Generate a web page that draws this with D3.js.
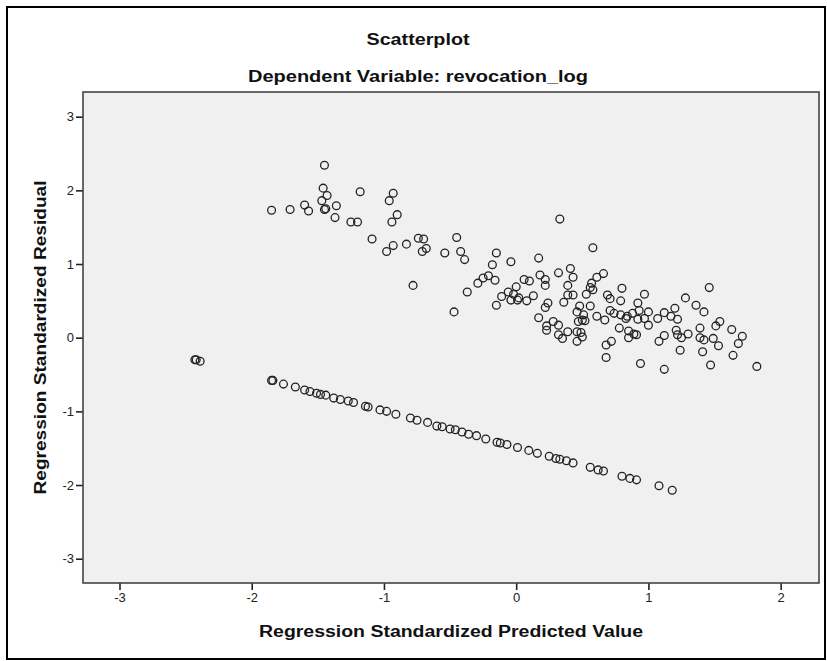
<!DOCTYPE html>
<html>
<head>
<meta charset="utf-8">
<script src="https://cdn.jsdelivr.net/npm/d3@7"></script>
<style>
  body { margin: 0; background: #fff; }
  svg { display: block; font-family: "Liberation Sans", Arial, sans-serif; }
</style>
</head>
<body>
<svg id="chart" width="827" height="661"></svg>
<script>
// SPSS residual plot: standardized predicted (x) vs standardized residual (y)
var titleText = "Scatterplot",
  subtitleText = "Dependent Variable: revocation_log",
  xTitle = "Regression Standardized Predicted Value",
  yTitle = "Regression Standardized Residual";

var xTicks = [-3, -2, -1, 0, 1, 2],
  yTicks = [-3, -2, -1, 0, 1, 2, 3];

// lower band of points (observations at the floor of the dependent variable)
var lineGroup = [
  [-2.43,-0.30],[-2.42,-0.30],[-2.39,-0.32],
  [-1.85,-0.58],[-1.84,-0.58],[-1.76,-0.63],[-1.67,-0.67],[-1.60,-0.71],[-1.56,-0.73],
  [-1.51,-0.755],[-1.48,-0.77],[-1.44,-0.78],[-1.38,-0.82],[-1.33,-0.84],[-1.27,-0.86],
  [-1.23,-0.88],[-1.14,-0.93],[-1.12,-0.94],[-1.03,-0.98],[-0.98,-1.00],[-0.91,-1.04],
  [-0.80,-1.09],[-0.75,-1.12],[-0.67,-1.15],[-0.60,-1.20],[-0.56,-1.21],[-0.50,-1.24],
  [-0.46,-1.25],[-0.41,-1.28],[-0.36,-1.31],[-0.30,-1.33],[-0.23,-1.375],[-0.145,-1.42],
  [-0.12,-1.43],[-0.07,-1.45],[0.01,-1.49],[0.095,-1.53],[0.16,-1.57],[0.25,-1.61],
  [0.30,-1.64],[0.33,-1.65],[0.38,-1.67],[0.43,-1.70],[0.56,-1.76],[0.62,-1.795],
  [0.66,-1.81],[0.80,-1.88],[0.86,-1.91],[0.91,-1.93],[1.08,-2.01],[1.18,-2.07]
];

// upper cloud
var cloudGroup = [
  [-1.45,2.34],[-1.46,2.03],[-1.43,1.93],[-1.47,1.86],[-1.60,1.80],[-1.57,1.72],[-1.45,1.74],
  [-1.44,1.75],[-1.36,1.79],[-1.37,1.63],[-1.85,1.73],[-1.71,1.74],
  [-1.18,1.98],[-0.93,1.96],[-0.96,1.86],[-0.90,1.67],[-0.94,1.57],[-1.25,1.57],[-1.20,1.57],
  [-1.09,1.34],[-0.93,1.25],[-0.98,1.17],[-0.83,1.27],[-0.74,1.35],[-0.70,1.34],[-0.68,1.21],
  [-0.71,1.17],[-0.78,0.71],[-0.45,1.36],[-0.54,1.15],[-0.42,1.17],[-0.39,1.06],[-0.47,0.35],
  [-0.37,0.62],[-0.29,0.74],[-0.25,0.81],[-0.21,0.84],[-0.16,0.78],[-0.18,0.99],[-0.15,1.15],
  [-0.04,1.03],[-0.15,0.44],[-0.11,0.56],[-0.06,0.62],[-0.04,0.51],[0.00,0.69],[0.01,0.51],
  [0.08,0.50],[0.06,0.79],[0.10,0.77],[0.13,0.57],[0.17,1.08],[0.18,0.85],[0.22,0.79],
  [0.22,0.71],[0.24,0.47],[0.22,0.41],[0.17,0.27],[0.28,0.22],[0.32,0.17],[0.23,0.10],
  [0.32,0.04],[0.39,0.08],[0.46,-0.05],[0.33,1.61],[0.32,0.88],[0.41,0.94],[0.43,0.82],
  [0.39,0.71],[0.39,0.58],[0.43,0.58],[0.36,0.48],[0.46,0.35],[0.47,0.22],[0.46,0.08],
  [0.58,1.22],[0.66,0.87],[0.61,0.82],[0.57,0.74],[0.58,0.65],[0.53,0.59],[0.80,0.67],
  [0.69,0.58],[0.71,0.53],[0.79,0.50],[0.97,0.59],[0.92,0.47],[0.56,0.43],[0.48,0.43],
  [0.51,0.31],[0.61,0.29],[0.67,0.24],[0.74,0.33],[0.79,0.31],[0.84,0.29],[0.88,0.33],
  [0.93,0.37],[1.00,0.35],[0.97,0.26],[1.00,0.17],[0.92,0.25],[0.83,0.26],[1.07,0.26],
  [1.12,0.34],[1.17,0.29],[1.20,0.40],[1.22,0.25],[1.28,0.54],[1.36,0.44],[1.42,0.35],
  [1.46,0.68],[1.54,0.22],[1.51,0.16],[1.63,0.11],[1.71,0.02],[1.68,-0.08],[1.64,-0.24],
  [1.82,-0.39],[1.47,-0.37],[1.39,0.13],[1.39,0.00],[1.42,-0.03],[1.41,-0.19],[1.49,-0.01],
  [1.53,-0.11],[1.30,0.05],[1.24,-0.17],[1.22,0.04],[1.21,0.10],[1.12,0.03],[1.08,-0.05],
  [1.12,-0.43],[0.94,-0.35],[0.91,0.04],[0.89,0.05],[0.85,0.00],[0.78,0.13],[0.72,-0.05],
  [0.68,-0.10],[0.68,-0.27],[0.50,0.01],[0.49,0.07],
  [1.25,0.00],[0.56,0.68],[0.52,0.23],[0.50,0.24],[0.71,0.37],[0.85,0.09],[0.35,-0.01],
  [-0.02,0.59],[0.02,0.54],[0.23,0.16]
];

var svg = d3.select("#chart"),
  width = +svg.attr("width"),
  height = +svg.attr("height");

var plot = {left: 83, right: 819, top: 92, bottom: 583};

var x = d3.scaleLinear().domain([-3.276, 2.29]).range([plot.left, plot.right]),
  y = d3.scaleLinear().domain([-3.33, 3.335]).range([plot.bottom, plot.top]);

// outer frame
svg.append("rect")
  .attr("x", 7).attr("y", 7)
  .attr("width", 818).attr("height", 652)
  .attr("fill", "#fff")
  .attr("stroke", "#000")
  .attr("stroke-width", 2);

// SPSS titles are set in a wide bold face; stretch to the measured widths
function boldText(tx, ty, txt, len) {
  return svg.append("text")
    .attr("x", tx).attr("y", ty)
    .attr("text-anchor", "middle")
    .attr("textLength", len)
    .attr("lengthAdjust", "spacingAndGlyphs")
    .attr("fill", "#111")
    .style("font-size", "16px").style("font-weight", "bold")
    .text(txt);
}

boldText(418, 45, titleText, 103);
boldText(418, 82, subtitleText, 340);

// plot background
svg.append("rect")
  .attr("x", plot.left).attr("y", plot.top)
  .attr("width", plot.right - plot.left).attr("height", plot.bottom - plot.top)
  .attr("fill", "#f0f0f0");

var fmt = function (d) { return String(d); };

var xAxis = svg.append("g")
  .attr("transform", "translate(0," + plot.bottom + ")")
  .call(d3.axisBottom(x).tickValues(xTicks).tickFormat(fmt).tickSize(7).tickSizeOuter(0).tickPadding(3));

var yAxis = svg.append("g")
  .attr("transform", "translate(" + plot.left + ",0)")
  .call(d3.axisLeft(y).tickValues(yTicks).tickFormat(fmt).tickSize(7).tickSizeOuter(0).tickPadding(2));

[xAxis, yAxis].forEach(function (g) {
  g.select(".domain").remove();
  g.selectAll(".tick line").attr("stroke", "#222").attr("stroke-width", 1.6);
  g.selectAll(".tick text")
    .attr("fill", "#222")
    .style("font-family", "'Liberation Sans', Arial, sans-serif")
    .style("font-size", "13px");
});

// points
var dots = svg.append("g")
  .attr("fill", "none")
  .attr("stroke", "#222")
  .attr("stroke-width", 1.3);

dots.selectAll("circle.low")
  .data(lineGroup)
  .enter().append("circle")
  .attr("class", "low")
  .attr("cx", function (d) { return x(d[0]); })
  .attr("cy", function (d) { return y(d[1]); })
  .attr("r", 3.9);

dots.selectAll("circle.up")
  .data(cloudGroup)
  .enter().append("circle")
  .attr("class", "up")
  .attr("cx", function (d) { return x(d[0]); })
  .attr("cy", function (d) { return y(d[1]); })
  .attr("r", 3.9);

// plot border
svg.append("rect")
  .attr("x", plot.left).attr("y", plot.top)
  .attr("width", plot.right - plot.left).attr("height", plot.bottom - plot.top)
  .attr("fill", "none")
  .attr("stroke", "#444")
  .attr("stroke-width", 1.6);

boldText((plot.left + plot.right) / 2, 637, xTitle, 384);

boldText(0, 0, yTitle, 314)
  .attr("transform", "translate(46," + ((plot.top + plot.bottom) / 2) + ") rotate(-90)");
</script>
</body>
</html>
